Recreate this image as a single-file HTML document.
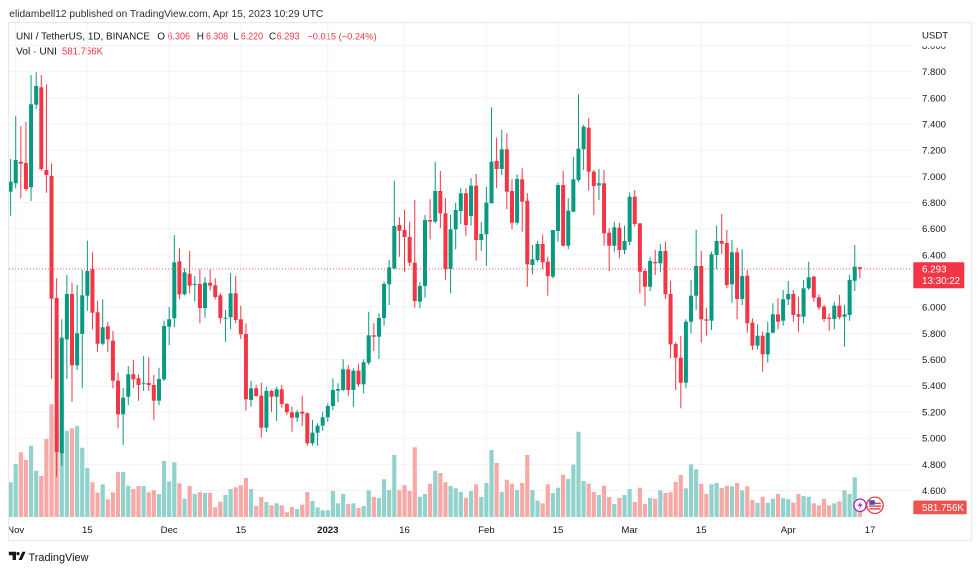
<!DOCTYPE html>
<html><head><meta charset="utf-8"><style>
html,body{margin:0;padding:0;background:#fff;}
svg{display:block;font-family:"Liberation Sans",sans-serif;}
</style></head><body>
<svg id="s" width="980" height="571" viewBox="0 0 980 571" xmlns="http://www.w3.org/2000/svg">
<rect width="980" height="571" fill="#fff"/>
<defs><clipPath id="pane"><rect x="9" y="23" width="903" height="494"/></clipPath>
<clipPath id="tax"><rect x="9" y="517" width="903" height="23"/></clipPath></defs>
<!-- header -->
<text x="9.3" y="16.8" font-size="10.5" fill="#2a2e39" textLength="314" lengthAdjust="spacingAndGlyphs">elidambell12 published on TradingView.com, Apr 15, 2023 10:29 UTC</text>
<g font-size="10" fill="#131722">
<text x="16" y="39.3" textLength="134" lengthAdjust="spacingAndGlyphs">UNI / TetherUS, 1D, BINANCE</text>
<text x="157.3" y="39.3">O</text><text x="167.5" y="39.3" fill="#f23645" textLength="22.5" lengthAdjust="spacingAndGlyphs">6.306</text>
<text x="196.7" y="39.3">H</text><text x="206" y="39.3" fill="#f23645" textLength="22" lengthAdjust="spacingAndGlyphs">6.308</text>
<text x="233.3" y="39.3">L</text><text x="240.7" y="39.3" fill="#f23645" textLength="22.5" lengthAdjust="spacingAndGlyphs">6.220</text>
<text x="269" y="39.3">C</text><text x="276.6" y="39.3" fill="#f23645" textLength="23" lengthAdjust="spacingAndGlyphs">6.293</text>
<text x="307.3" y="39.3" fill="#f23645" font-size="9.3">−0.015 (−0.24%)</text>
<text x="16" y="54.5" textLength="41" lengthAdjust="spacingAndGlyphs">Vol · UNI</text>
<text x="62" y="54.5" fill="#f23645" textLength="41" lengthAdjust="spacingAndGlyphs">581.756K</text>
</g>
<!-- frame -->
<rect x="8.5" y="22.5" width="963" height="518" fill="none" stroke="#e6e8ee" stroke-width="1.2"/>
<g id="grid"></g>
<g id="vol" clip-path="url(#pane)"></g>
<g id="cdl" clip-path="url(#pane)"></g>
<line x1="9" y1="269" x2="912" y2="269" stroke="#f23645" stroke-width="1" stroke-dasharray="1 2" opacity="0.8"/>
<g id="pax" font-size="9.6" fill="#131722"></g>
<rect x="913" y="24" width="57" height="22.5" fill="#fff"/>
<text x="922" y="38.5" font-size="9.6" fill="#131722">USDT</text>
<rect x="913.3" y="262.3" width="51" height="26" fill="#f23645" rx="1"/>
<text x="922" y="272.6" font-size="9.8" fill="#fff">6.293</text>
<text x="922" y="284.2" font-size="9.8" fill="#fff">13:30:22</text>
<rect x="913.3" y="500.5" width="53.4" height="13.7" fill="#ef5350" rx="1"/>
<text x="922" y="511" font-size="9.8" fill="#fff">581.756K</text>
<g id="tx" font-size="9.6" fill="#131722" text-anchor="middle" clip-path="url(#tax)"></g>
<!-- icons -->
<circle cx="860" cy="505.3" r="6.2" fill="#fff" stroke="#9c27b0" stroke-width="1.3"/>
<path d="M861.5 500.8 L857.6 506 L860.2 506 L858.6 509.8 L862.6 504.4 L860 504.4 Z" fill="#9c27b0"/>
<circle cx="875" cy="505.3" r="8.2" fill="#fff" stroke="#f23645" stroke-width="1.3"/>
<rect x="869.5" y="502.6" width="11" height="1.4" fill="#f23645"/>
<rect x="869" y="505.4" width="12" height="1.4" fill="#f23645"/>
<rect x="869.5" y="508.2" width="11" height="1.4" fill="#f23645"/>
<rect x="869.3" y="500.2" width="5.5" height="4.6" fill="#3f51b5"/>
<!-- logo -->
<path d="M8.8 551.8 H16 V560 H12.6 V555.2 H8.8 Z" fill="#131722"/>
<circle cx="18" cy="553.6" r="1.6" fill="#131722"/>
<path d="M18.6 560 L22.4 551.8 H25.6 L21.8 560 Z" fill="#131722"/>
<text x="28.5" y="561" font-size="11" fill="#131722" textLength="60" lengthAdjust="spacingAndGlyphs">TradingView</text>
</svg>
<script>
(function(){
var NS="http://www.w3.org/2000/svg";
function el(p,t,a){var e=document.createElementNS(NS,t);for(var k in a)e.setAttribute(k,a[k]);p.appendChild(e);return e;}
var grid=document.getElementById('grid'),vol=document.getElementById('vol'),cdl=document.getElementById('cdl'),pax=document.getElementById('pax'),tx=document.getElementById('tx');
for(var k=0;k<=17;k++){var p=8.0-0.2*k;var y=307.3-(p-6)*130.9;
 el(grid,'line',{x1:9,x2:912,y1:y,y2:y,stroke:'#f0f3fa','stroke-width':1});
 var t=el(pax,'text',{x:922,y:y+3.4});t.textContent=p.toFixed(3);}
var TL=[[15.7,'Nov'],[87.3,'15'],[169.2,'Dec'],[240.9,'15'],[327.8,'2023',1],[404.5,'16'],[486.4,'Feb'],[558,'15'],[629.6,'Mar'],[701.2,'15'],[788.2,'Apr'],[870,'17']];
TL.forEach(function(d){el(grid,'line',{x1:d[0],x2:d[0],y1:23,y2:517,stroke:'#f0f3fa','stroke-width':1});
 var t=el(tx,'text',{x:d[0],y:532.8});if(d[2])t.setAttribute('font-weight','bold');t.textContent=d[1];});
var D=[
['g',181.7,191.7,159,215.7,482.3],['g',160,183.3,116,188.3,464],['r',161.7,163.7,126,198.3,452.3],['r',163,189,122,191,460],['g',104.3,187.3,75,201,445.7],
['g',86,104.7,72.3,109,470.7],['r',87.3,169,75,171,476],['r',170,175,84.3,192.7,439],['r',176,298.7,163.3,379,404.3],['r',298,452,278.3,476.7,418.3],
['g',337.7,453.3,319.3,466,393.3],['g',294,339.3,275,379,431],['r',294,365.3,282.7,401.7,428.3],['g',333.3,365.3,285,370,426],['g',295.3,334,270,388.3,447.7],
['g',271,295.7,240.7,310.7,468],['r',269.3,312.7,252.3,329.3,482.3],['r',312.3,343.7,300.7,352,492.7],['g',327.3,343.7,299.3,345.3,484.3],['r',326.3,339.3,322,352,499.3],
['r',340.7,380.7,331,388.3,492.3],['r',380.7,414.3,372.7,428.3,472],['g',397.7,414.3,387.7,445,472],['g',374.3,396.7,366,405.3,485.7],['r',374.3,379.3,360,388.3,489],
['r',378.3,385,374.3,400.7,486],['g',382.7,383.7,356,391,486],['r',383,385,357.3,391,492.3],['r',385,400.7,375,420,490.3],['g',379,400.7,367.7,405.3,494],
['g',326,379.3,320.7,381,461],['g',319.3,326.7,307,345,481.5],['g',262.3,318.3,235,327.3,462.3],['r',261.3,294.3,248.3,299.3,483.3],['g',272.3,294.3,268.3,295.3,498.7],
['r',273.7,285.7,251,293.3,486],['g',284,285,276,301.7,494],['r',284,308,269.3,323.3,492],['g',282.7,308,277.3,317.7,493],['r',282.7,285.7,269.3,290.7,493],
['r',285.3,297,278.3,299.3,507.3],['r',295.3,318,293.3,323.3,501.7],['g',317.7,318.7,310,341.7,495],['g',293.3,317.3,273.3,329.3,489],['r',293.3,320,276,323.3,487.3],
['r',319.3,334.3,305.7,339,485.3],['r',334,399.3,323.3,410.7,478],['g',388.3,400,380.7,406.7,489],['r',388.3,396,385,396.7,506],['r',395.7,427.7,382.7,437.7,497],
['g',391,427.7,386.7,431.7,502],['r',391,396.7,390,411.7,505.3],['g',389.3,396.7,386.7,421,503.3],['r',389.3,404,385,407.7,505.3],['r',404,412.3,402.7,415,512.3],
['r',412.3,417.7,406.7,431.7,507],['g',412.3,417.7,410,421.7,509],['r',411.7,413.7,395.7,426,504.7],['r',413.3,443.3,412.3,445.7,492],['g',432.7,443.3,420,445.7,501],
['g',425.7,432.7,423.3,445.7,507.3],['g',417.3,425.7,411.7,430.7,510.3],['g',406,417.3,403.3,421.7,510.3],['g',390,406,378.3,410,491],['g',389,390.7,383.3,402.3,503.3],
['g',369.3,390,359.3,391,494],['r',369.3,390,365,395.7,504],['g',370.7,390,368.3,406.7,503.3],['r',370.7,384.3,364,386.7,508],['g',362.3,384.3,359.3,393.3,506],
['g',335.3,362.7,311.7,365,490.3],['r',335.3,336.7,323.3,351,497],['g',318,336.7,313.3,359,498],['g',284,318,281.7,325.7,479.3],['g',267.3,284.3,260,305,490],
['g',226,268.3,180.7,269.3,455],['r',225,230.7,217.3,256.7,490.3],['r',230,237,210,271.7,485],['r',237,262.7,221.7,266,491],['r',262.7,301,200,307.7,447.3],
['g',286,301.7,282.3,308.3,496.7],['g',220,286,215,297.7,494],['r',220,221.7,199.3,239.3,483.7],['g',191,221.7,161.7,223.3,470.7],['r',191,213.3,171,228.3,473],
['r',213.3,269,198.3,280,482.3],['g',229.3,269,215,293.3,486],['g',210,229.3,202.7,249.3,488.3],['g',193.3,211,188.3,224.3,492],['r',193.3,225,188.3,235.7,497.7],
['g',185.7,216,178.3,225.7,491],['r',185.7,240,174,260.7,484.3],['g',234,240,221.7,250.7,497],['g',202.7,234.3,186.7,266,483],['g',161.7,203.3,107.3,203.3,450],
['r',161,169,137.7,188.3,463],['g',149.3,169,130,175,492],['r',149.3,191.7,133.3,209,479.7],['r',191,222.7,179.3,229.3,483.7],['g',179,222.7,174.3,225,490],
['r',179.3,201.7,168.3,231.7,483],['r',200.7,264.3,193.3,286.7,455],['g',259.3,265,245,274.3,490],['g',244,260,241,261.7,500.7],['r',244,262.3,234.3,269,503.3],
['r',261.7,276,256.7,295.7,484.3],['g',230,276.7,230,278.3,493],['g',185,231,182.7,241.7,487.7],['r',185,245.7,171,246.7,474.7],['g',210.7,245.7,198.3,249.3,479],
['g',179.3,211.7,156.7,212.3,464.7],['g',148.7,180,94.3,181.7,431.7],['g',126.7,149.3,125,170,481],['r',127.7,171.7,118.3,190.7,483.7],['r',171.7,186,170,215,492],
['g',183.3,185.3,169,200,495],['r',183.3,233.3,170,245.7,485.7],['r',232.7,245.7,228.3,271,497],['g',227.3,245.7,221.7,251.7,504],['r',227.7,250,222.7,258.3,498],
['g',241,250,225.7,254.3,495],['g',196.7,241.7,192.7,245,489],['r',196.7,224,190,226.7,502],['r',223.3,271.7,223.3,293.3,487.7],['r',271,286.7,269,306,504],
['g',261,286.7,256.7,291,498],['r',262,263.3,250,275,498.7],['g',251,263.3,244,272.3,490.3],['r',251,294.3,241.7,299,493],['r',294,344.3,280.7,358.3,492.3],
['r',344,357.7,342.3,390,482],['r',357.7,382.7,336,408.3,475],['g',321.7,382.7,319.3,388.3,488.3],['g',295.7,321.7,280,333.3,464.3],['g',266,295.7,230,310,469.3],
['r',266,319.3,251,342.7,483.7],['r',319.3,320.7,307.7,335.7,494],['g',254.3,320.7,251.7,330,484.3],['g',241,255,225.7,269,483],['r',241,243.7,214,254,488],
['r',243,285,230,288.3,485.7],['g',252.3,284.3,240,302.7,486.3],['r',252.3,299,247.7,319.3,483],['g',276,299,249.3,305,490.3],['r',275.7,323.3,270,332.7,486.3],
['r',322.7,345.7,318.3,350,500],['g',335.7,345.7,324.3,349.3,502.7],['r',335.7,354.3,331.7,371.7,496.7],['g',332.7,354.3,321.7,362.7,502.7],['g',314.3,332.7,303.3,333.3,498.7],
['r',314.3,321.7,298.3,329.3,494],['g',299.3,320.7,290,325.7,498],['g',294,299.3,281,305,499.3],['r',294,315,290,321.7,502.7],['r',314.3,316.7,296.7,331.7,494],
['g',288.3,316.7,280,323.3,496],['g',277.3,288.3,261.7,290,496.7],['r',276.7,297.7,276,301.7,503.3],['r',297.3,307.3,294.3,310,505.3],['r',306.7,319,305,321.7,498.7],
['r',317.7,319,313.3,330.7,505.3],['g',305.7,319,301.7,329.3,503.3],['r',305.7,317.3,295,319.3,501.3],['g',314.3,316.7,305,346.7,490.3],['g',280,315,275,320.7,494],
['g',266.7,280.7,245,291,477.3],['r',267.3,269,266.7,278.3,509]
];
D.forEach(function(d,i){var x=10.6+5.116*i;var up=d[0]=='g';
 var c=up?'#089981':'#f23645',vc=up?'#92d2cc':'#f7a9a7';
 el(vol,'rect',{x:x-2.1,y:d[5],width:4.2,height:517-d[5],fill:vc});
 el(cdl,'rect',{x:x-0.5,y:d[3],width:1,height:Math.max(1,d[4]-d[3]),fill:c});
 el(cdl,'rect',{x:x-2,y:d[1],width:4,height:Math.max(1,d[2]-d[1]),fill:c});
});
})();
</script>
</body></html>
